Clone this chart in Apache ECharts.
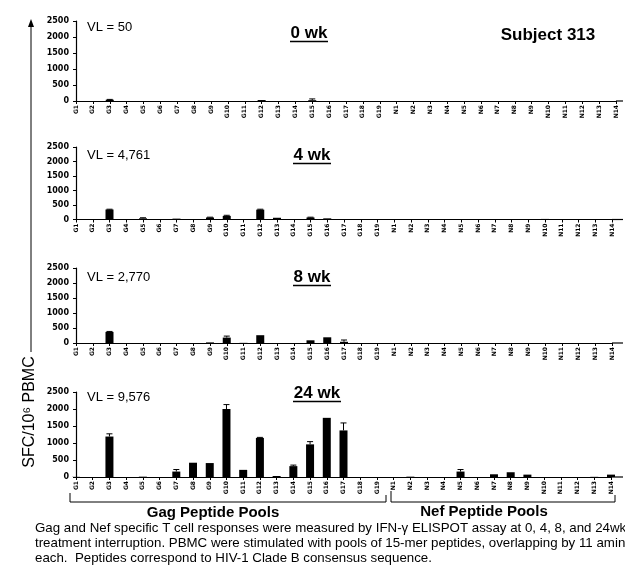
<!DOCTYPE html>
<html><head><meta charset="utf-8">
<script src="https://cdn.jsdelivr.net/npm/echarts@6/dist/echarts.min.js"></script>
<style>html,body{margin:0;padding:0;background:#fff}#c{width:625px;height:574px}</style>
</head><body><div id="c"></div>
<script>
const categories = ['G1','G2','G3','G4','G5','G6','G7','G8','G9','G10','G11','G12','G13','G14','G15','G16','G17','G18','G19',
  'N1','N2','N3','N4','N5','N6','N7','N8','N9','N10','N11','N12','N13','N14'];
const yTicks = [0, 500, 1000, 1500, 2000, 2500];
const weekTitles = ['0 wk', '4 wk', '8 wk', '24 wk'];
const vlLabels = ['VL = 50', 'VL = 4,761', 'VL = 2,770', 'VL = 9,576'];
const wk0 = [0,0,40,0,0,0,0,0,0,0,0,30,0,0,25,0,0,0,0, 0,0,0,0,0,0,0,0,0,0,0,0,0,0];
const err0 = [0,0,10,0,0,0,0,0,0,0,0,0,0,0,40,0,0,0,0, 0,0,0,0,0,0,0,0,0,0,0,0,0,0];
const wk4 = [0,0,345,10,40,0,30,0,70,125,0,340,60,0,70,40,10,0,0, 0,0,0,0,10,0,0,0,0,20,5,0,0,0];
const err4 = [0,0,10,0,20,0,0,0,10,20,0,15,0,0,10,0,0,0,0, 0,0,0,0,0,0,0,0,0,0,0,0,0,0];
const wk8 = [0,0,370,0,0,0,0,0,20,180,5,260,0,0,90,190,40,0,0, 0,0,0,0,0,0,0,0,0,0,0,0,0,0];
const err8 = [0,0,15,0,0,0,0,0,0,50,0,0,0,0,0,0,60,0,0, 0,0,0,0,0,0,0,0,0,0,0,0,0,0];
const wk24 = [5,0,1190,0,10,0,160,420,410,2000,210,1150,30,320,960,1740,1370,0,0, 0,10,0,0,160,0,80,140,70,0,0,0,5,70];
const err24 = [0,0,80,0,0,0,60,0,0,130,0,15,0,30,80,0,220,0,0, 0,0,0,0,60,0,0,0,0,0,0,0,0,0];
const captionLines = [
  'Gag and Nef specific T cell responses were measured by IFN-\u03b3 ELISPOT assay at 0, 4, 8, and 24wk',
  'treatment interruption. PBMC were stimulated with pools of 15-mer peptides, overlapping by 11 amino',
  'each.  Peptides correspond to HIV-1 Clade B consensus sequence.'
];

const values = [wk0, wk4, wk8, wk24];
const errors = [err0, err4, err8, err24];
const panels = [
  {top: 21, height: 80, right: 9},
  {top: 147, height: 72.5, right: 13},
  {top: 268, height: 75, right: 13},
  {top: 392, height: 85, right: 14}
];
const SANS = 'Liberation Sans, Arial, sans-serif';
const TICKF = 'DejaVu Sans, sans-serif';

const grid = [], xAxis = [], yAxis = [], series = [], graphic = [];
panels.forEach((p, i) => {
  grid.push({left: 76, right: p.right, top: p.top, height: p.height});
  xAxis.push({
    type: 'category', gridIndex: i, data: categories, boundaryGap: false,
    axisLine: {lineStyle: {color: '#000', width: 1.2}},
    axisTick: {show: true, length: 3, lineStyle: {color: '#000'}},
    axisLabel: {interval: 0, rotate: 90, fontSize: 6, fontWeight: 'bold', fontFamily: TICKF, color: '#000', margin: 4}
  });
  yAxis.push({
    type: 'value', gridIndex: i, min: yTicks[0], max: yTicks[yTicks.length - 1], interval: 500,
    axisLine: {show: true, lineStyle: {color: '#000', width: 1.2}},
    axisTick: {show: true, length: 3, lineStyle: {color: '#000'}},
    splitLine: {show: false},
    axisLabel: {fontSize: 8, fontWeight: 'bold', fontFamily: TICKF, color: '#000', margin: 7, formatter: v => String(v)}
  });
  series.push({
    type: 'bar', xAxisIndex: i, yAxisIndex: i, data: values[i], barWidth: 8,
    itemStyle: {color: '#000'}, silent: true
  });
  const errData = [];
  errors[i].forEach((e, k) => { if (e > 0) errData.push([k, values[i][k], e]); });
  series.push({
    type: 'custom', xAxisIndex: i, yAxisIndex: i, data: errData, silent: true, z: 5,
    renderItem: (params, api) => {
      const k = api.value(0), v = api.value(1), e = api.value(2);
      const p0 = api.coord([k, v]);
      const p1 = api.coord([k, v + e]);
      return {type: 'group', children: [
        {type: 'line', shape: {x1: p0[0], y1: p0[1], x2: p0[0], y2: p1[1]}, style: {stroke: '#000', lineWidth: 1}},
        {type: 'line', shape: {x1: p0[0] - 3, y1: p1[1], x2: p0[0] + 3, y2: p1[1]}, style: {stroke: '#000', lineWidth: 1}}
      ]};
    }
  });
  const base = p.top + p.height;
  graphic.push({type: 'line', shape: {x1: 625 - p.right, y1: base, x2: 623, y2: base}, style: {stroke: '#000', lineWidth: 1.2}});
});

const titleY = [33, 155, 277, 393];
const titleX = [309, 312, 312, 317];
const vlY = [27, 155, 277, 397];
titleY.forEach((y, i) => {
  graphic.push({type: 'text', x: titleX[i], y: y, style: {text: weekTitles[i], font: 'bold 17px ' + SANS, fill: '#000', textAlign: 'center', textVerticalAlign: 'middle'}});
  const w = weekTitles[i].length > 4 ? 48 : 38;
  graphic.push({type: 'line', shape: {x1: titleX[i] - w / 2, y1: y + 8.5, x2: titleX[i] + w / 2, y2: y + 8.5}, style: {stroke: '#000', lineWidth: 1.3}});
  graphic.push({type: 'text', x: 87, y: vlY[i], style: {text: vlLabels[i], font: '13px ' + SANS, fill: '#000', textAlign: 'left', textVerticalAlign: 'middle'}});
});
graphic.push({type: 'text', x: 548, y: 35, style: {text: 'Subject 313', font: 'bold 17px ' + SANS, fill: '#000', textAlign: 'center', textVerticalAlign: 'middle'}});

graphic.push({type: 'line', shape: {x1: 31, y1: 24, x2: 31, y2: 352}, style: {stroke: '#000', lineWidth: 1}});
graphic.push({type: 'polygon', shape: {points: [[31, 19], [28, 27], [34, 27]]}, style: {fill: '#000'}});
graphic.push({type: 'text', x: 30, y: 412, rotation: Math.PI / 2, style: {text: 'SFC/10\u2076 PBMC', font: '16px ' + SANS, fill: '#000', textAlign: 'center', textVerticalAlign: 'middle'}});

graphic.push({type: 'polyline', shape: {points: [[70, 493], [70, 502], [386, 502], [386, 495]]}, style: {stroke: '#000', lineWidth: 1, fill: null}});
graphic.push({type: 'polyline', shape: {points: [[391, 491], [391, 502], [615, 502], [615, 495]]}, style: {stroke: '#000', lineWidth: 1, fill: null}});
graphic.push({type: 'text', x: 213, y: 513, style: {text: 'Gag Peptide Pools', font: 'bold 15px ' + SANS, fill: '#000', textAlign: 'center', textVerticalAlign: 'middle'}});
graphic.push({type: 'text', x: 484, y: 512, style: {text: 'Nef Peptide Pools', font: 'bold 15px ' + SANS, fill: '#000', textAlign: 'center', textVerticalAlign: 'middle'}});

const capY = [528, 543, 558];
captionLines.forEach((t, i) => {
  graphic.push({type: 'text', x: 35, y: capY[i], style: {text: t, font: '13.3px ' + SANS, fill: '#000', textAlign: 'left', textVerticalAlign: 'middle'}});
});

const chart = echarts.init(document.getElementById('c'), null, {renderer: 'canvas'});
chart.setOption({animation: false, backgroundColor: '#fff', grid, xAxis, yAxis, series, graphic});
</script></body></html>
